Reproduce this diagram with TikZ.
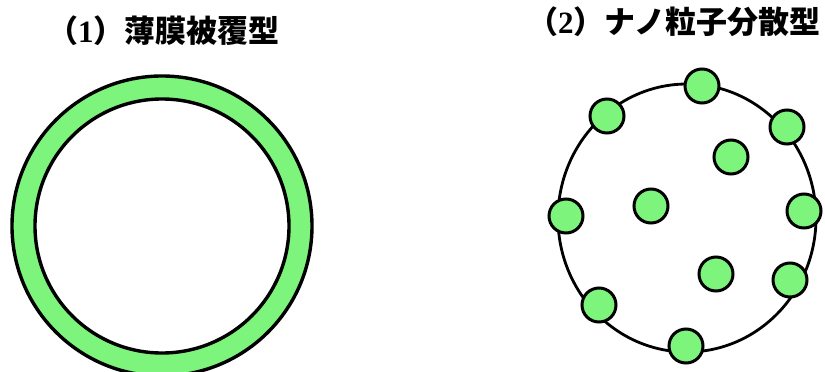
\documentclass[tikz,border=0pt]{standalone}
\usepackage{fontspec}
\setmainfont{Liberation Serif}
\newfontfamily\cjk{Noto Sans CJK JP}
\usetikzlibrary{positioning}
\definecolor{filmgreen}{RGB}{125,245,125}
\tikzstyle{particle} = [circle, draw, line width=3pt, fill=filmgreen,
    minimum size=34pt, inner sep=0pt]
\tikzstyle{heading} = [inner sep=0pt, anchor=west,
    font=\fontsize{31}{37}\selectfont\bfseries]
\tikzstyle{shell} = [draw, line width=3.4pt]

\begin{document}
\begin{tikzpicture}[x=1pt, y=-1pt]
                \useasboundingbox (0,0) rectangle (825,372);

                % Headings
                \node [heading] (coat) at (47,31) {\cjk （\textrm{1}）薄膜被覆型};
                \node [heading] (nano) at (527,22) {\cjk （\textrm{2}）ナノ粒子分散型};

                % Thin film coating
                \coordinate (core) at (162,226);
                \fill [filmgreen, even odd rule] (core) circle (150) (core) circle (127);
                \draw [shell] (core) circle (150);
                \draw [shell] (core) circle (127);

                % Dispersed nano particles
                \coordinate (host) at (687,218);
                \draw [line width=2.8pt] (host) ellipse [x radius=129, y radius=134];
                \foreach \px/\py [count=\i] in {702/86, 607/116, 787/127, 731/157,
                    566/216, 651/206, 804/211, 716/274, 790/280, 599/305, 686/346}
                    \node [particle] (p\i) at (\px,\py) {};

            \end{tikzpicture}
\end{document}
